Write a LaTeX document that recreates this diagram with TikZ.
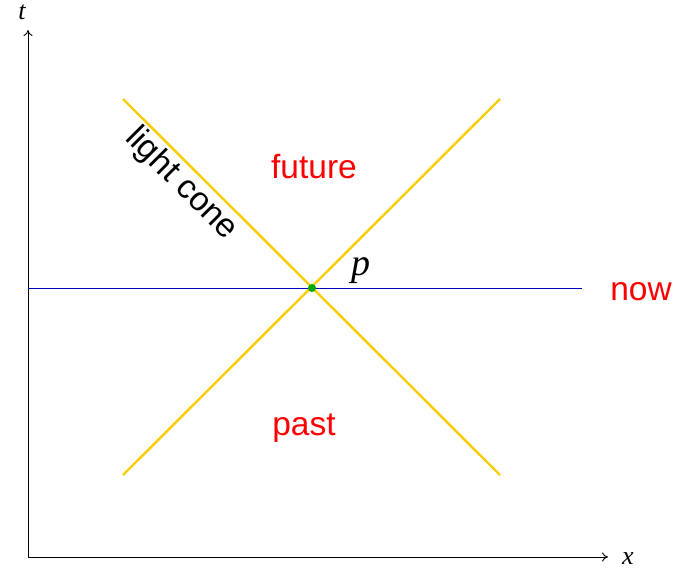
\documentclass[tikz,border=0pt]{standalone}
\usepackage{fontspec}
\usetikzlibrary{arrows.meta}
\setmainfont{Liberation Serif}
\setsansfont{Liberation Sans}
\definecolor{cone}{RGB}{250,205,0}
\definecolor{nowblue}{RGB}{0,0,190}
\definecolor{dotgreen}{RGB}{0,170,0}
\begin{document}
\begin{tikzpicture}[x=1pt,y=-1pt,
  axis/.style={draw=black, line width=0.9pt, -{To[length=6pt,width=9pt]}},
  conel/.style={draw=cone, line width=2.4pt},
  lbl/.style={text=red, inner sep=0pt, font=\sffamily\fontsize{33.5}{38}\selectfont},
  mathl/.style={inner sep=0pt, font=\itshape\fontsize{26}{30}\selectfont}]
\useasboundingbox (0,0) rectangle (687,570);
\coordinate (o) at (28,557);
\coordinate (ttop) at (28,30);
\coordinate (xend) at (608,557);
\coordinate (nowl) at (28,288);
\coordinate (nowr) at (582,288);
\coordinate (ul) at (123,99);
\coordinate (ur) at (500,99);
\coordinate (ll) at (123,475);
\coordinate (lr) at (500,475);
\draw[axis] (o) -- (ttop);
\draw[axis] (o) -- (xend);
\draw[nowblue, line width=0.8pt] (nowl) -- (nowr);
\draw[conel] (ul) -- (lr);
\draw[conel] (ll) -- (ur);
\fill[dotgreen] (312,288) circle (4);
\node[lbl] (future) at (314,167) {future};
\node[lbl] (past) at (304,428) {past};
\node[lbl] (now) at (641,292) {now};
\node[mathl, font=\itshape\fontsize{38}{42}\selectfont] (p) at (361,271) {p};
\node[mathl] (t) at (22,12) {t};
\node[mathl] (x) at (628,559) {x};
\node[inner sep=0pt, font=\sffamily\fontsize{33.5}{38}\selectfont, rotate=-45] (lc) at (181,184) {light cone};
\end{tikzpicture}
\end{document}
